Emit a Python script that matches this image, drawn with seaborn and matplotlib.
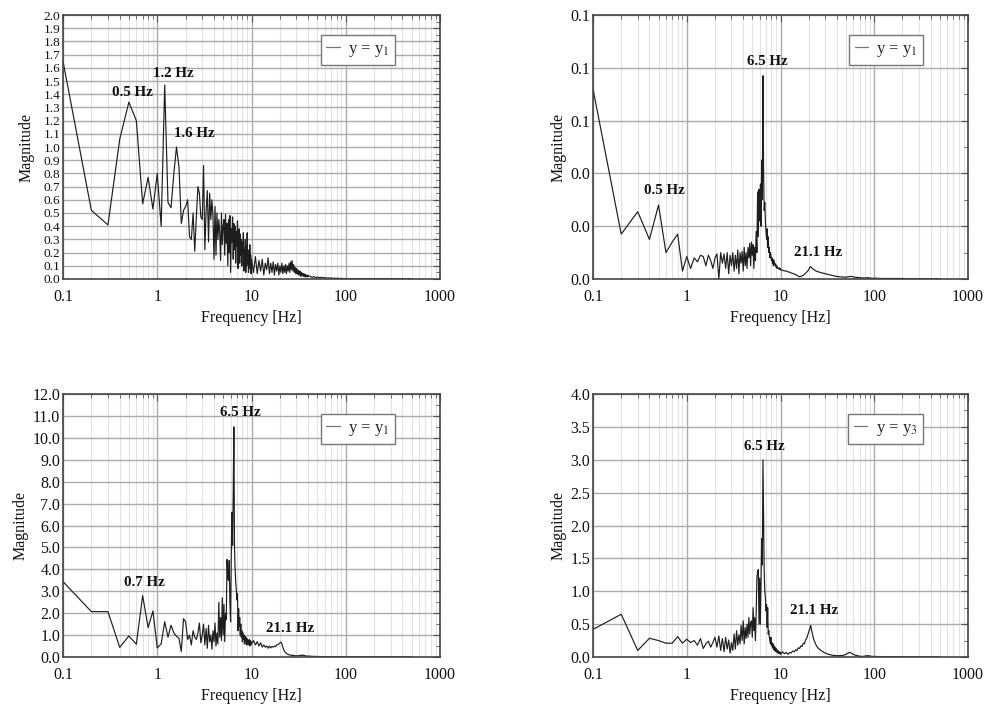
import numpy as np
import pandas as pd
import matplotlib
matplotlib.use("Agg")
import matplotlib.pyplot as plt
import seaborn as sns
from matplotlib.ticker import (MultipleLocator, FormatStrFormatter, LogLocator,
                               FuncFormatter, NullFormatter)

# ---------------- data ----------------
# frequency grid of the spectra (Hz)
freq_lo = np.round(np.arange(1, 101) * 0.1, 1)            # 0.1 .. 10.0
freq_mid = np.arange(10.5, 40.01, 0.5)                     # 10.5 .. 40
freq_hf = np.arange(42.0, 100.01, 2.0)                     # 42 .. 100
freq_tail = np.arange(120.0, 500.01, 20.0)                 # 120 .. 500

# Panel 1 (top-left)
mag1_lo = [1.65, 0.52, 0.41, 1.06, 1.34, 1.20, 0.57, 0.77, 0.53, 0.80,
           0.40, 1.47, 0.58, 0.54, 0.80, 1.00, 0.85, 0.42, 0.52, 0.55,
           0.60, 0.32, 0.30, 0.50, 0.21, 0.47, 0.70, 0.65, 0.47, 0.45,
           0.86, 0.22, 0.52, 0.67, 0.28, 0.65, 0.45, 0.60, 0.48, 0.15,
           0.55, 0.18, 0.50, 0.30, 0.45, 0.35, 0.14, 0.50, 0.26, 0.40,
           0.45, 0.18, 0.49, 0.27, 0.42, 0.10, 0.45, 0.20, 0.48, 0.05,
           0.38, 0.28, 0.47, 0.15, 0.42, 0.22, 0.40, 0.12, 0.36, 0.25,
           0.44, 0.08, 0.30, 0.38, 0.12, 0.34, 0.18, 0.30, 0.10, 0.28,
           0.20, 0.35, 0.06, 0.22, 0.15, 0.30, 0.05, 0.25, 0.10, 0.35,
           0.12, 0.22, 0.05, 0.20, 0.08, 0.26, 0.10, 0.18, 0.04, 0.15]
mag1_mid = [0.05, 0.17, 0.04, 0.14, 0.06, 0.15, 0.03, 0.12, 0.07, 0.16,
            0.04, 0.12, 0.05, 0.13, 0.03, 0.11, 0.06, 0.12, 0.03, 0.10,
            0.05, 0.12, 0.04, 0.10, 0.05, 0.11, 0.04, 0.10, 0.06, 0.12,
            0.05, 0.13, 0.07, 0.14, 0.06, 0.11, 0.05, 0.09, 0.04, 0.08,
            0.04, 0.07, 0.03, 0.06, 0.03, 0.06, 0.02, 0.05, 0.03, 0.04,
            0.02, 0.04, 0.02, 0.035, 0.015, 0.03, 0.02, 0.03, 0.015, 0.025]
mag1_hf = [0.02, 0.012, 0.018, 0.01, 0.015, 0.01, 0.013, 0.008, 0.012, 0.007,
           0.01, 0.006, 0.009, 0.006, 0.008, 0.005, 0.007, 0.005, 0.006, 0.004,
           0.006, 0.004, 0.005, 0.004, 0.005, 0.003, 0.004, 0.003, 0.004, 0.003]
mag1_tail = [0.003, 0.002, 0.003, 0.002, 0.003, 0.002, 0.003, 0.002, 0.002, 0.002,
             0.002, 0.002, 0.002, 0.002, 0.002, 0.002, 0.002, 0.002, 0.002, 0.002]

# Panel 2 (top-right)
mag2_lo = [0.072, 0.017, 0.0255, 0.015, 0.028, 0.010, 0.014, 0.017, 0.003, 0.0085,
           0.004, 0.008, 0.0065, 0.009, 0.0085, 0.005, 0.009, 0.007, 0.004, 0.008,
           0.0095, 0.0, 0.010, 0.006, 0.0095, 0.004, 0.010, 0.002, 0.009, 0.005,
           0.010, 0.003, 0.009, 0.004, 0.011, 0.002, 0.010, 0.006, 0.0105, 0.003,
           0.012, 0.005, 0.010, 0.004, 0.012, 0.008, 0.0135, 0.005, 0.014, 0.009,
           0.013, 0.004, 0.012, 0.007, 0.018, 0.010, 0.033, 0.016, 0.034, 0.022,
           0.036, 0.020, 0.045, 0.030, 0.077, 0.040, 0.026, 0.029, 0.022, 0.018,
           0.015, 0.019, 0.012, 0.016, 0.010, 0.012, 0.008, 0.010, 0.009, 0.007,
           0.008, 0.006, 0.0075, 0.005, 0.007, 0.0055, 0.006, 0.005, 0.0055, 0.0045,
           0.005, 0.004, 0.0045, 0.0042, 0.004, 0.0038, 0.0042, 0.0036, 0.004, 0.0034]
mag2_mid = [0.0034, 0.0030, 0.0031, 0.0027, 0.0026, 0.0023, 0.0021, 0.0019, 0.0016, 0.0014,
            0.0011, 0.0008, 0.0010, 0.0012, 0.0014, 0.0018, 0.0022, 0.0026, 0.0030, 0.0036,
            0.0043, 0.0047, 0.0042, 0.0039, 0.0036, 0.0034, 0.0032, 0.0030, 0.0029, 0.0028,
            0.0027, 0.0026, 0.0025, 0.0024, 0.0023, 0.0023, 0.0022, 0.0021, 0.0021, 0.0020,
            0.0019, 0.0019, 0.0018, 0.0018, 0.0017, 0.0016, 0.0016, 0.0015, 0.0015, 0.0014,
            0.0014, 0.0013, 0.0013, 0.0012, 0.0012, 0.0011, 0.0011, 0.0010, 0.0010, 0.0009]
mag2_hf = [0.0009, 0.0008, 0.0008, 0.0007, 0.0007, 0.0008, 0.0009, 0.0010, 0.0009, 0.0008,
           0.0007, 0.0006, 0.0006, 0.0005, 0.0005, 0.0005, 0.0004, 0.0004, 0.0004, 0.0004,
           0.0004, 0.0005, 0.0005, 0.0004, 0.0004, 0.0003, 0.0003, 0.0003, 0.0003, 0.0003]
mag2_tail = [0.0002, 0.0002, 0.0002, 0.0002, 0.0002, 0.0001, 0.0001, 0.0001, 0.0001, 0.0001,
             0.0001, 0.0001, 0.0001, 0.0001, 0.0001, 0.0001, 0.0001, 0.0001, 0.0001, 0.0001]

# Panel 3 (bottom-left)
mag3_lo = [3.44, 2.07, 2.07, 0.44, 0.96, 0.58, 2.80, 1.34, 2.10, 0.41,
           0.60, 1.61, 0.90, 1.45, 1.10, 0.95, 0.85, 0.25, 1.75, 1.60,
           0.80, 1.00, 0.55, 1.20, 0.90, 0.80, 1.10, 1.55, 0.65, 1.00,
           1.50, 0.55, 1.30, 0.40, 1.45, 0.70, 1.00, 0.35, 1.20, 0.70,
           1.55, 0.50, 1.10, 0.60, 2.50, 0.90, 1.80, 0.75, 2.70, 1.00,
           2.40, 0.70, 2.00, 1.70, 4.45, 3.60, 3.50, 4.40, 2.50, 1.60,
           4.70, 6.60, 5.10, 7.50, 10.50, 5.00, 4.00, 3.40, 3.10, 2.60,
           2.90, 1.20, 2.20, 1.40, 1.80, 1.00, 1.50, 0.90, 1.20, 0.70,
           1.10, 0.80, 1.00, 0.60, 0.95, 0.70, 0.90, 0.55, 0.85, 0.65,
           0.80, 0.55, 0.75, 0.60, 0.80, 0.50, 0.75, 0.55, 0.70, 0.60]
mag3_mid = [0.75, 0.55, 0.70, 0.50, 0.65, 0.45, 0.55, 0.45, 0.50, 0.40,
            0.50, 0.42, 0.48, 0.45, 0.50, 0.48, 0.55, 0.56, 0.60, 0.64,
            0.68, 0.60, 0.45, 0.33, 0.25, 0.20, 0.16, 0.13, 0.12, 0.10,
            0.09, 0.08, 0.09, 0.07, 0.08, 0.06, 0.07, 0.06, 0.05, 0.06,
            0.05, 0.06, 0.05, 0.06, 0.07, 0.08, 0.07, 0.08, 0.07, 0.09,
            0.08, 0.07, 0.06, 0.06, 0.05, 0.05, 0.04, 0.04, 0.04, 0.04]
mag3_hf = [0.04, 0.03, 0.03, 0.03, 0.025, 0.02, 0.02, 0.02, 0.015, 0.015,
           0.015, 0.012, 0.012, 0.01, 0.01, 0.01, 0.01, 0.008, 0.008, 0.008,
           0.008, 0.007, 0.007, 0.007, 0.006, 0.006, 0.006, 0.005, 0.005, 0.005]
mag3_tail = [0.004, 0.004, 0.004, 0.004, 0.003, 0.003, 0.003, 0.003, 0.003, 0.003,
             0.003, 0.002, 0.002, 0.002, 0.002, 0.002, 0.002, 0.002, 0.002, 0.002]

# Panel 4 (bottom-right)
mag4_lo = [0.42, 0.65, 0.10, 0.285, 0.25, 0.21, 0.21, 0.31, 0.21, 0.27,
           0.22, 0.25, 0.18, 0.28, 0.13, 0.20, 0.24, 0.15, 0.22, 0.30,
           0.15, 0.32, 0.10, 0.28, 0.08, 0.30, 0.12, 0.26, 0.06, 0.22,
           0.10, 0.35, 0.12, 0.40, 0.18, 0.34, 0.20, 0.48, 0.25, 0.55,
           0.20, 0.45, 0.28, 0.50, 0.30, 0.60, 0.35, 0.52, 0.55, 0.30,
           0.75, 0.40, 0.60, 0.25, 0.65, 1.20, 1.30, 1.33, 0.50, 1.20,
           0.50, 1.20, 1.80, 1.40, 3.00, 2.15, 1.30, 1.00, 0.90, 0.70,
           0.80, 0.45, 0.75, 0.35, 0.40, 0.30, 0.25, 0.20, 0.30, 0.18,
           0.22, 0.15, 0.20, 0.12, 0.17, 0.10, 0.15, 0.09, 0.13, 0.08,
           0.12, 0.07, 0.10, 0.06, 0.09, 0.05, 0.08, 0.05, 0.07, 0.04]
mag4_mid = [0.08, 0.05, 0.07, 0.04, 0.07, 0.06, 0.09, 0.08, 0.11, 0.10,
            0.14, 0.13, 0.17, 0.16, 0.21, 0.20, 0.26, 0.28, 0.33, 0.38,
            0.43, 0.48, 0.40, 0.34, 0.28, 0.24, 0.21, 0.18, 0.16, 0.14,
            0.13, 0.12, 0.11, 0.10, 0.09, 0.085, 0.08, 0.07, 0.065, 0.06,
            0.055, 0.05, 0.05, 0.045, 0.04, 0.04, 0.035, 0.035, 0.03, 0.03,
            0.028, 0.026, 0.025, 0.024, 0.023, 0.022, 0.021, 0.02, 0.02, 0.02]
mag4_hf = [0.02, 0.022, 0.025, 0.03, 0.04, 0.055, 0.07, 0.065, 0.05, 0.04,
           0.03, 0.025, 0.02, 0.015, 0.012, 0.01, 0.01, 0.01, 0.012, 0.015,
           0.018, 0.02, 0.02, 0.018, 0.015, 0.012, 0.01, 0.01, 0.008, 0.008]
mag4_tail = [0.006, 0.005, 0.004, 0.003, 0.002, 0.002, 0.001, 0.001, 0.001, 0.001,
             0.001, 0.001, 0.001, 0.001, 0.001, 0.001, 0.001, 0.001, 0.001, 0.001]

legend_labels = ["y = y$_1$", "y = y$_1$", "y = y$_1$", "y = y$_3$"]
y_max = [2.0, 0.10, 12.0, 4.0]
y_step = [0.1, 0.02, 1.0, 0.5]

# peak annotations: (frequency, magnitude, text)
annotations = [
    [(0.54, 1.41, "0.5 Hz"), (1.47, 1.56, "1.2 Hz"), (2.48, 1.10, "1.6 Hz")],
    [(0.58, 0.0336, "0.5 Hz"), (7.28, 0.0825, "6.5 Hz"), (25.3, 0.0101, "21.1 Hz")],
    [(0.74, 3.41, "0.7 Hz"), (7.55, 11.15, "6.5 Hz"), (25.8, 1.28, "21.1 Hz")],
    [(6.66, 3.20, "6.5 Hz"), (23.1, 0.70, "21.1 Hz")],
]

# ---------------- style ----------------
sns.set_theme(style="white")
plt.rcParams["font.family"] = ["Liberation Serif", "DejaVu Serif"]
plt.rcParams["mathtext.fontset"] = "stix"

W, H = 994, 704
fig = plt.figure(figsize=(W / 100, H / 100), dpi=100)
rects = [
    (63, 15, 440, 279),
    (593, 15, 968, 279),
    (63, 394, 440, 657),
    (593, 394, 968, 657),
]

panels = [
    (mag1_lo, mag1_mid, mag1_hf, mag1_tail),
    (mag2_lo, mag2_mid, mag2_hf, mag2_tail),
    (mag3_lo, mag3_mid, mag3_hf, mag3_tail),
    (mag4_lo, mag4_mid, mag4_hf, mag4_tail),
]
freq_all = np.concatenate([freq_lo, freq_mid, freq_hf, freq_tail])

for i, (l, t, r, b) in enumerate(rects):
    ax = fig.add_axes([l / W, 1 - b / H, (r - l) / W, (b - t) / H])
    mag = np.concatenate([np.asarray(p, dtype=float) for p in panels[i]])
    df = pd.DataFrame({"Frequency": freq_all, "Magnitude": mag})
    sns.lineplot(data=df, x="Frequency", y="Magnitude", ax=ax, color="#1e1e1e",
                 lw=0.85, estimator=None, sort=False, label=legend_labels[i])
    ax.set_xscale("log")
    ax.set_xlim(0.1, 1000)
    ax.set_ylim(0, y_max[i])

    ax.xaxis.set_major_locator(LogLocator(base=10))
    ax.xaxis.set_minor_locator(LogLocator(base=10, subs=np.arange(2, 10)))
    ax.xaxis.set_major_formatter(FuncFormatter(lambda v, p: "%g" % v))
    ax.xaxis.set_minor_formatter(NullFormatter())
    ax.yaxis.set_major_locator(MultipleLocator(y_step[i]))
    ax.yaxis.set_minor_locator(MultipleLocator(y_step[i] / 2))
    ax.yaxis.set_major_formatter(FormatStrFormatter("%.1f"))

    ax.grid(which="major", axis="both", color="#ababab", lw=1.0)
    ax.grid(which="minor", axis="x", color="#e2e2e2", lw=0.8)
    ax.set_axisbelow(True)
    ax.tick_params(which="both", direction="in", top=True, right=True,
                   color="#555555", labelsize=11.5, labelcolor="#111111")
    ax.tick_params(which="major", length=5, width=0.8)
    ax.tick_params(which="minor", length=3, width=0.6)
    ax.tick_params(axis="x", which="major", pad=7)
    ax.tick_params(axis="y", which="major", pad=2)
    if i == 0:
        # densely packed ticks (every 0.1) -> slightly smaller labels
        ax.tick_params(axis="y", which="major", labelsize=9.6)
    for s in ax.spines.values():
        s.set_color("#444444")
        s.set_linewidth(1.2)

    ax.set_xlabel("Frequency [Hz]", fontsize=11.5, color="#111111", labelpad=4)
    ax.set_ylabel("Magnitude", fontsize=11.5, color="#111111",
                  labelpad=3 if i != 0 else 6)

    leg = ax.legend(loc="upper right", bbox_to_anchor=(0.881, 0.924), borderaxespad=0,
                    fancybox=False, edgecolor="#777777", framealpha=1,
                    handlelength=0.8, handletextpad=0.5, fontsize=12,
                    borderpad=0.35)
    leg.get_frame().set_linewidth(1.0)
    for ln in leg.get_lines():
        ln.set_color("#777777")
        ln.set_linewidth(0.9)

    for (fx, fy, txt) in annotations[i]:
        ax.text(fx, fy, txt, ha="center", va="center", fontweight="bold",
                fontsize=10.8, color="#111111")

fig.savefig("out.png", dpi=100)
